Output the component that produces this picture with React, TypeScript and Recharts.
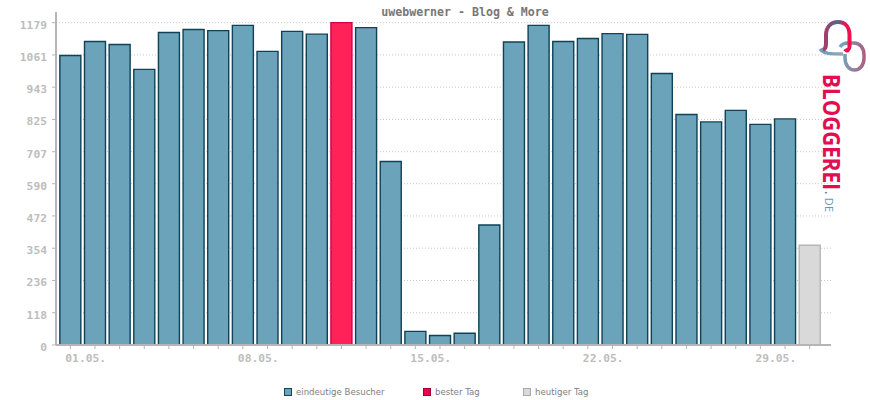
import React from "react";
import { BarChart, Bar, XAxis, YAxis, CartesianGrid, Legend } from "recharts";

const days = ["01.05.","02.05.","03.05.","04.05.","05.05.","06.05.","07.05.","08.05.","09.05.","10.05.","11.05.","12.05.","13.05.","14.05.","15.05.","16.05.","17.05.","18.05.","19.05.","20.05.","21.05.","22.05.","23.05.","24.05.","25.05.","26.05.","27.05.","28.05.","29.05.","30.05.","31.05."];
const visitors: (number | null)[] = [1059,1110,1099,1008,1143,1154,1150,1169,1074,1147,1137,null,1161,671,50,35,43,439,1108,1169,1110,1121,1139,1136,993,843,816,858,807,827,null];
const best: (number | null)[] = [null,null,null,null,null,null,null,null,null,null,null,1179,null,null,null,null,null,null,null,null,null,null,null,null,null,null,null,null,null,null,null];
const today: (number | null)[] = [null,null,null,null,null,null,null,null,null,null,null,null,null,null,null,null,null,null,null,null,null,null,null,null,null,null,null,null,null,null,365];
const yTicks = [0,118,236,354,472,590,707,825,943,1061,1179];
const xTickLabels = ["01.05.","08.05.","15.05.","22.05.","29.05."];
const title = "uwebwerner - Blog & More";
const seriesNames = ["eindeutige Besucher","bester Tag","heutiger Tag"];

const data = days.map((day, i) => ({ day, visitors: visitors[i], best: best[i], today: today[i] }));
const MONO = "'DejaVu Sans Mono', monospace";

const XTick = (props: any) => {
  const { x, y, payload } = props;
  if (!xTickLabels.includes(payload.value)) return null;
  return <text x={x - 5} y={y + 11} fontFamily={MONO} fontWeight={700} fontSize={11.3} fill="#bdbdbd" textAnchor="start">{payload.value}</text>;
};

const legendX = [284, 423, 523];
const legendFill = ["#6ba3bb", "#f0004c", "#d9d9d9"];
const legendStroke = ["#0f4257", "#a0003a", "#a8a8a8"];
const LegendContent = () => (
  <svg width={870} height={20} style={{ display: "block" }}>
    {seriesNames.map((n, i) => (
      <g key={n}>
        <rect x={legendX[i] + 0.5} y={5.5} width={7} height={7} fill={legendFill[i]} stroke={legendStroke[i]} />
        <text x={legendX[i] + 12} y={12} fontFamily="'DejaVu Sans', sans-serif" fontSize={8.6} fill="#808080">{n}</text>
      </g>
    ))}
  </svg>
);

const Logo = () => (
  <svg width={870} height={400} style={{ position: "absolute", left: 0, top: 0, pointerEvents: "none" }}>
    <defs>
      <linearGradient id="lg1" gradientUnits="userSpaceOnUse" x1="824" y1="0" x2="851" y2="0">
        <stop offset="0" stopColor="#a83a68" />
        <stop offset="0.5" stopColor="#4f6a90" />
        <stop offset="0.8" stopColor="#f0104f" />
      </linearGradient>
      <linearGradient id="lg3" gradientUnits="userSpaceOnUse" x1="820" y1="0" x2="845" y2="0">
        <stop offset="0" stopColor="#5fa3bb" />
        <stop offset="1" stopColor="#a3a3b5" />
      </linearGradient>
      <linearGradient id="lg2" gradientUnits="userSpaceOnUse" x1="842" y1="0" x2="866" y2="0">
        <stop offset="0" stopColor="#72a5bb" />
        <stop offset="1" stopColor="#b05a80" />
      </linearGradient>
      <linearGradient id="lt" gradientUnits="userSpaceOnUse" x1="0" y1="74" x2="0" y2="190">
        <stop offset="0" stopColor="#e01050" />
        <stop offset="0.55" stopColor="#8a4070" />
        <stop offset="1" stopColor="#44709a" />
      </linearGradient>
    </defs>
    <path d="M820 49 C 824 54 830 54 843 54" fill="none" stroke="url(#lg3)" strokeWidth={3.5} />
    <path d="M840 47 C 842 44 845 43 848 43 L 854 43 C 860 43 864 48 864 55 L 864 58 C 864 65 860 70 854.5 70 C 849 70 845 65 845 58 L 845 54" fill="none" stroke="url(#lg2)" strokeWidth={3.5} />
    <path d="M823 50 C 825 49 826 47 826 44 L 826 35 C 826 27 831 22 838 22 C 845 22 849.5 27 849.5 35 L 849.5 46 C 849.5 50 847 52 845 49" fill="none" stroke="url(#lg1)" strokeWidth={4} />
    <text transform="translate(823,74) rotate(90)" fontFamily="'Open Sans', 'DejaVu Sans', sans-serif" fontWeight={700} fontSize={22.5} fill="url(#lt)" textLength={116} lengthAdjust="spacingAndGlyphs">BLOGGEREI</text>
    <text transform="translate(825,191) rotate(90)" fontFamily="'Open Sans', 'DejaVu Sans', sans-serif" fontSize={11} fill="#5f9ab5" letterSpacing={0.5}><tspan fill="#44709a" fontWeight={700}>.</tspan><tspan dx={3}>DE</tspan></text>
  </svg>
);

export default function App() {
  return (
    <div style={{ position: "absolute", left: 0, top: 0, width: 870, height: 400 }}>
      <BarChart width={870} height={400} data={data} margin={{ top: 12, right: 39, bottom: 5, left: 0 }} barCategoryGap="7.5%">
        <text x={465} y={16} textAnchor="middle" fontFamily={MONO} fontWeight={700} fontSize={11.6} fill="#777">{title}</text>
        <CartesianGrid horizontal vertical={false} syncWithTicks stroke="#c8c8c8" strokeDasharray="1 2" />
        <XAxis dataKey="day" interval={0} padding={{ left: 2, right: 9 }} tick={<XTick />} tickLine={{ stroke: "#b5b5b5" }} tickSize={4}
          axisLine={{ stroke: "#b5b5b5", strokeWidth: 2 }} />
        <YAxis width={56} type="number" domain={[0, 1218]} ticks={yTicks} interval={0} tickSize={4} tickMargin={5}
          tick={{ fontFamily: MONO, fontWeight: 700, fontSize: 11.3, fill: "#bdbdbd", dy: 2 }} tickLine={{ stroke: "#b5b5b5" }} axisLine={{ stroke: "#b5b5b5", strokeWidth: 2 }} />
        <Bar dataKey="visitors" name={seriesNames[0]} stackId="a" fill="#6ba3bb" stroke="#0f4257" strokeWidth={1.4} isAnimationActive={false} />
        <Bar dataKey="best" name={seriesNames[1]} stackId="a" fill="#ff2259" stroke="#d0004c" strokeWidth={1.4} isAnimationActive={false} />
        <Bar dataKey="today" name={seriesNames[2]} stackId="a" fill="#d9d9d9" stroke="#b5b5b5" strokeWidth={1.4} isAnimationActive={false} />
        <Legend content={<LegendContent />} wrapperStyle={{ left: 0, top: 383, width: 870, height: 20 }} />
      </BarChart>
      <Logo />
    </div>
  );
}
